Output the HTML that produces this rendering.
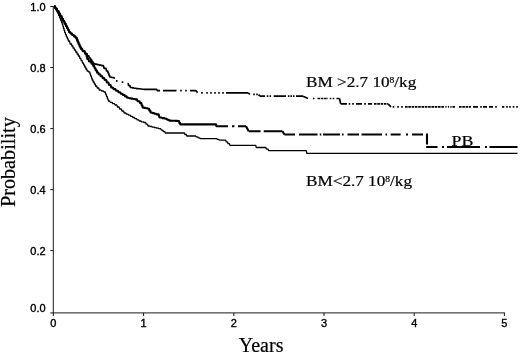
<!DOCTYPE html>
<html><head><meta charset="utf-8"><title>Probability vs Years</title>
<style>html,body{margin:0;padding:0;background:#fff}svg{display:block}</style></head>
<body>
<svg width="520" height="355" viewBox="0 0 520 355">
<rect width="520" height="355" fill="#fff"/>
<g stroke="#1a1a1a" stroke-width="1" fill="none">
<path d="M53.3 6 V313.4"/>
<path d="M50.3 312.9 H504.9"/>
<path d="M53.3 312.9 V316"/>
<path d="M143.6 312.9 V316"/>
<path d="M233.8 312.9 V316"/>
<path d="M324.0 312.9 V316"/>
<path d="M414.2 312.9 V316"/>
<path d="M504.4 312.9 V316"/>
<path d="M50.3 6.5 H53.3"/>
<path d="M50.3 67.5 H53.3"/>
<path d="M50.3 128.6 H53.3"/>
<path d="M50.3 189.6 H53.3"/>
<path d="M50.3 250.6 H53.3"/>
</g>
<g font-family="'Liberation Sans', Arial, sans-serif" font-size="10.3" fill="#000" stroke="#000" stroke-width="0.35">
<text transform="translate(45.6,10.8) scale(1.07,1)" text-anchor="end">1.0</text>
<text transform="translate(45.6,71.8) scale(1.07,1)" text-anchor="end">0.8</text>
<text transform="translate(45.6,132.9) scale(1.07,1)" text-anchor="end">0.6</text>
<text transform="translate(45.6,193.9) scale(1.07,1)" text-anchor="end">0.4</text>
<text transform="translate(45.6,254.9) scale(1.07,1)" text-anchor="end">0.2</text>
<text transform="translate(45.6,311.6) scale(1.07,1)" text-anchor="end">0.0</text>
<text transform="translate(53.3,327) scale(1.07,1)" text-anchor="middle">0</text>
<text transform="translate(143.6,327) scale(1.07,1)" text-anchor="middle">1</text>
<text transform="translate(233.8,327) scale(1.07,1)" text-anchor="middle">2</text>
<text transform="translate(324.0,327) scale(1.07,1)" text-anchor="middle">3</text>
<text transform="translate(414.2,327) scale(1.07,1)" text-anchor="middle">4</text>
<text transform="translate(504.4,327) scale(1.07,1)" text-anchor="middle">5</text>
</g>
<g font-family="'Liberation Serif', 'Times New Roman', serif" fill="#000" stroke="#000" stroke-width="0.2">
<text x="238.8" y="351.6" font-size="20">Years</text>
<text transform="translate(15.1,207.1) rotate(-90) scale(1.012,1)" font-size="20">Probability</text>
<text transform="translate(306,87) scale(1.145,1)" font-size="15">BM &gt;2.7 10<tspan font-size="8.3" dy="-3.9">8</tspan><tspan dy="3.9">/kg</tspan></text>
<text transform="translate(306,185.6) scale(1.145,1)" font-size="15">BM&lt;2.7 10<tspan font-size="8.3" dy="-3.9">8</tspan><tspan dy="3.9">/kg</tspan></text>
<text transform="translate(451.6,145.5) scale(1.17,1)" font-size="15.3">PB</text>
</g>
<g fill="none" stroke="#000" stroke-linejoin="round">
<path stroke-width="1.3" d="M54.4 6.2 L54.8 6.2 L55.2 8.5 L56.0 8.5 L56.4 10.7 L57.2 10.7 L57.6 13.0 L58.0 13.0 L58.4 13.0 L58.6 15.4 L59.4 15.4 L59.6 17.8 L60.4 17.8 L60.6 20.1 L61.4 20.1 L61.6 22.5 L62.0 22.5 L62.2 22.5 L62.4 24.5 L62.8 24.5 L63.0 26.5 L63.4 26.5 L63.6 28.5 L64.0 28.5 L64.2 30.5 L64.6 30.5 L64.8 32.5 L65.0 32.5 L65.3 32.5 L65.6 34.6 L66.2 34.6 L66.5 36.8 L67.2 36.8 L67.5 38.9 L68.1 38.9 L68.4 41.0 L68.7 41.0 L69.5 41.0 L70.2 44.0 L71.0 44.0 L71.5 44.0 L71.9 46.0 L72.8 46.0 L73.2 48.0 L74.1 48.0 L74.5 50.0 L75.0 50.0 L75.5 50.0 L75.9 52.0 L76.8 52.0 L77.2 54.0 L78.1 54.0 L78.5 56.0 L79.0 56.0 L79.5 56.0 L79.9 58.3 L80.8 58.3 L81.2 60.7 L82.1 60.7 L82.5 63.0 L83.0 63.0 L83.4 63.0 L83.7 65.0 L84.5 65.0 L84.9 67.0 L85.6 67.0 L86.0 69.0 L86.8 69.0 L87.1 71.0 L87.5 71.0 L88.2 71.0 L88.8 72.0 L89.5 72.0 L89.8 72.0 L90.0 74.0 L90.5 74.0 L90.7 76.0 L91.3 76.0 L91.5 78.0 L92.0 78.0 L92.2 80.0 L92.5 80.0 L92.9 80.0 L93.3 82.0 L94.1 82.0 L94.4 84.0 L95.2 84.0 L95.6 86.0 L96.0 86.0 L96.7 86.0 L97.3 88.0 L98.7 88.0 L99.3 90.0 L100.0 90.0 L100.9 90.0 L101.6 91.0 L103.4 91.0 L104.1 92.0 L105.0 92.0 L105.3 92.0 L105.6 94.2 L106.2 94.2 L106.5 96.5 L107.2 96.5 L107.5 98.8 L108.1 98.8 L108.4 101.0 L108.7 101.0 L109.6 101.0 L110.3 102.3 L112.0 102.3 L112.7 103.7 L114.4 103.7 L115.1 105.0 L116.0 105.0 L116.8 105.0 L117.5 107.0 L119.0 107.0 L119.7 109.0 L121.3 109.0 L122.0 111.0 L123.5 111.0 L124.2 113.0 L125.0 113.0 L125.8 113.0 L126.4 114.1 L127.9 114.1 L128.6 115.2 L130.1 115.2 L130.8 116.4 L132.3 116.4 L132.9 117.5 L133.7 117.5 L134.4 117.5 L135.1 118.7 L136.5 118.7 L137.2 119.8 L138.6 119.8 L139.3 121.0 L140.0 121.0 L140.9 121.0 L141.6 121.8 L143.4 121.8 L144.1 122.5 L145.0 122.5 L145.6 122.5 L146.2 124.2 L147.5 124.2 L148.1 126.0 L148.7 126.0 L149.5 126.0 L150.2 126.5 L151.8 126.5 L152.4 127.1 L154.0 127.1 L154.7 127.6 L156.3 127.6 L156.9 128.2 L158.5 128.2 L159.2 128.7 L160.0 128.7 L160.7 128.7 L161.3 130.1 L162.7 130.1 L163.3 131.6 L164.7 131.6 L165.3 133.0 L166.0 133.0 L183.7 133.0 L184.4 133.0 L184.9 134.5 L186.3 134.5 L186.8 136.0 L187.5 136.0 L195.0 136.0 L195.7 136.0 L196.3 136.9 L197.7 136.9 L198.3 137.8 L199.7 137.8 L200.3 138.7 L201.0 138.7 L216.0 138.7 L216.7 138.7 L217.3 139.4 L218.7 139.4 L219.3 140.2 L220.0 140.2 L225.0 140.2 L225.7 140.2 L226.2 141.9 L227.5 141.9 L228.1 143.7 L229.4 143.7 L229.9 145.4 L230.6 145.4 L255.0 145.4 L255.7 145.4 L256.3 147.5 L257.0 147.5 L265.0 147.5 L265.8 147.5 L266.4 149.1 L268.0 149.1 L268.6 150.6 L269.4 150.6 L305.6 150.6 L306.3 150.6 L306.8 153.4 L307.5 153.4 L517.5 153.4"/>
<path stroke-width="1.7" d="M54.4 6.2 L55.0 6.2 L55.6 8.6 L56.8 8.6 L57.4 11.0 L58.0 11.0 L58.5 11.0 L59.0 13.6 L60.0 13.6 L60.5 16.1 L61.5 16.1 L62.0 18.7 L62.5 18.7 L63.0 18.7 L63.4 21.1 L64.3 21.1 L64.7 23.6 L65.6 23.6 L66.0 26.0 L66.5 26.0 L66.8 26.0 L67.2 28.0 L67.8 28.0 L68.2 30.0 L68.8 30.0 L69.2 32.0 L69.5 32.0 L70.1 32.0 L70.6 33.5 L71.9 33.5 L72.4 35.0 L73.0 35.0 L73.6 35.0 L74.1 36.4 L75.3 36.4 L75.8 37.8 L76.4 37.8 L76.7 37.8 L76.9 39.9 L77.5 39.9 L77.7 42.0 L78.0 42.0 L78.4 42.0 L78.7 44.2 L79.4 44.2 L79.8 46.5 L80.5 46.5 L80.8 48.7 L81.2 48.7 L82.1 48.7 L82.8 51.2 L84.6 51.2 L85.3 53.7 L86.2 53.7 L86.9 53.7 L87.4 55.9 L88.8 55.9 L89.3 58.0 L90.0 58.0 L90.4 58.0 L90.8 59.9 L91.7 59.9 L92.0 61.8 L92.9 61.8 L93.3 63.7 L93.7 63.7 L94.5 63.7 L95.1 64.2 L96.7 64.2 L97.3 64.7 L98.9 64.7 L99.5 65.1 L101.1 65.1 L101.7 65.6 L102.5 65.6 L103.4 65.6 L104.1 68.3 L105.9 68.3 L106.6 71.0 L107.5 71.0 L107.8 71.0 L108.0 73.0 L108.6 73.0 L108.9 75.0 L109.5 75.0 L109.7 77.0 L110.0 77.0 L110.9 77.0 L111.6 77.5 L113.4 77.5 L114.1 78.0 L115.0 78.0"/>
<path stroke-width="1.6" d="M127.5 83.5 L128.1 83.5 L128.6 85.5 L129.9 85.5 L130.4 87.5 L131.0 87.5 L131.7 87.5 L132.3 87.9 L133.7 87.9 L134.3 88.2 L135.7 88.2 L136.3 88.6 L137.0 88.6 L137.7 88.6 L138.3 88.8 L139.7 88.8 L140.3 89.0 L141.7 89.0 L142.3 89.2 L143.7 89.2 L144.3 89.4 L145.0 89.4 L156.0 89.4 L156.7 89.4 L157.3 90.6 L158.0 90.6 L160.0 90.6"/>
<path stroke-width="1.7" d="M116.0 80.8 H117.6 M121.7 82.2 H123.3 M163.0 90.6 H176.5 M180.2 90.6 H181.8 M185.2 90.6 H186.8 M190.0 90.6 H196.0 M196 90.6 L197.5 92.7 M201.2 92.9 H202.8 M206.2 92.9 H207.8 M210.2 92.9 H211.8 M214.2 92.9 H215.8 M218.2 92.9 H219.8 M222.2 92.9 H223.8 M226.0 92.9 H248.0 M248 92.9 L250 94.4 M253.2 94.4 H254.8 M256.2 94.4 H257.8 M258.5 94.6 L260 96.2 M260.0 96.2 H265.0 M266.7 96.2 H268.3 M269.5 96.2 H271.1 M273.7 96.2 H286.0 M287.9 96.2 H289.5 M290.4 96.2 H292.0 M292.9 96.2 H294.5 M296.0 96.2 H303.0 M303 96.2 L308 98.5 M312.9 98.5 H314.5 M317.5 98.5 H320.1 M320.8 98.5 H323.4 M324.1 98.5 H326.7 M327.4 98.5 H328.0 M329.7 98.5 H331.3 M332.7 98.5 H334.3 M336.5 98.5 H339.3 M339.5 98.5 L340.7 103.8 M340.7 103.8 H347.0 M348.7 103.8 H350.3 M352.2 103.8 H353.8 M356.0 103.8 H362.0 M364.2 103.8 H365.8 M368.0 103.8 H372.0 M374.0 103.8 H376.6 M377.3 103.8 H379.9 M380.6 103.8 H383.2 M383.9 103.8 H386.5 M387.2 103.8 H388.0 M388 103.8 L391 106.8 M392.7 106.8 H394.3 M397.2 106.8 H398.8 M401.2 106.8 H402.8 M405.0 106.8 H407.6 M408.3 106.8 H410.9 M411.6 106.8 H414.2 M414.9 106.8 H417.5 M418.2 106.8 H420.8 M421.5 106.8 H424.1 M424.8 106.8 H427.4 M428.1 106.8 H430.7 M431.4 106.8 H434.0 M434.7 106.8 H437.3 M438.0 106.8 H440.6 M441.3 106.8 H443.9 M445.4 106.8 H446.6 M447.9 106.8 H449.1 M450.4 106.8 H451.6 M452.5 106.8 H455.0 M459.0 106.8 H461.6 M462.3 106.8 H464.9 M465.6 106.8 H468.2 M468.9 106.8 H471.0 M473.0 106.8 H478.0 M480.2 106.8 H481.8 M483.0 106.8 H487.0 M489.0 106.8 H493.0 M495.2 106.8 H496.8 M502.0 106.8 H504.3 M506.2 106.8 H507.8 M509.2 106.8 H510.8 M512.7 106.8 H514.3 M516.2 106.8 H517.8"/>
<path stroke-width="2.1" d="M54.4 6.2 L55.0 6.2 L55.6 8.6 L56.8 8.6 L57.4 11.0 L58.0 11.0 L58.5 11.0 L59.0 13.6 L60.0 13.6 L60.5 16.1 L61.5 16.1 L62.0 18.7 L62.5 18.7 L63.0 18.7 L63.4 21.1 L64.3 21.1 L64.7 23.6 L65.6 23.6 L66.0 26.0 L66.5 26.0 L66.8 26.0 L67.2 28.0 L67.8 28.0 L68.2 30.0 L68.8 30.0 L69.2 32.0 L69.5 32.0 L70.1 32.0 L70.6 33.5 L71.9 33.5 L72.4 35.0 L73.0 35.0 L73.6 35.0 L74.1 36.4 L75.3 36.4 L75.8 37.8 L76.4 37.8 L76.7 37.8 L76.9 39.9 L77.5 39.9 L77.7 42.0 L78.0 42.0 L78.4 42.0 L78.7 44.2 L79.4 44.2 L79.8 46.5 L80.5 46.5 L80.8 48.7 L81.2 48.7 L82.1 48.7 L82.8 51.2 L84.6 51.2 L85.3 53.7 L86.2 53.7 L86.4 53.7 L86.6 56.4 L87.1 56.4 L87.3 59.0 L87.5 59.0 L88.4 59.0 L89.1 61.4 L90.9 61.4 L91.6 63.7 L92.5 63.7 L92.9 63.7 L93.3 65.9 L94.2 65.9 L94.6 68.1 L95.4 68.1 L95.8 70.3 L96.7 70.3 L97.1 72.5 L97.5 72.5 L98.2 72.5 L98.8 74.4 L100.2 74.4 L100.8 76.2 L102.2 76.2 L102.8 78.1 L104.2 78.1 L104.8 80.0 L105.5 80.0 L106.3 80.0 L106.9 82.5 L108.4 82.5 L109.1 85.0 L110.6 85.0 L111.2 87.5 L112.0 87.5 L112.9 87.5 L113.6 89.1 L115.4 89.1 L116.1 90.7 L117.9 90.7 L118.6 92.3 L119.5 92.3 L120.2 92.3 L120.9 93.7 L122.4 93.7 L123.0 95.0 L124.5 95.0 L125.1 96.4 L126.6 96.4 L127.3 97.8 L128.0 97.8 L128.7 97.8 L129.3 98.2 L130.7 98.2 L131.3 98.6 L132.7 98.6 L133.3 99.0 L134.7 99.0 L135.3 99.4 L136.0 99.4 L136.9 99.4 L137.6 101.2 L139.4 101.2 L140.1 103.0 L141.0 103.0 L141.3 103.0 L141.7 105.2 L142.3 105.2 L142.7 107.5 L143.0 107.5 L143.7 107.5 L144.2 107.9 L145.6 107.9 L146.1 108.3 L147.5 108.3 L148.0 108.7 L148.7 108.7 L149.1 108.7 L149.4 110.6 L150.3 110.6 L150.6 112.5 L151.0 112.5 L151.8 112.5 L152.4 113.1 L153.9 113.1 L154.6 113.8 L156.1 113.8 L156.7 114.4 L157.5 114.4 L158.6 114.4 L159.5 117.5 L160.6 117.5 L161.5 117.5 L162.4 118.1 L164.2 118.1 L165.1 118.7 L166.0 118.7 L166.7 118.7 L167.3 119.7 L168.7 119.7 L169.3 120.6 L170.0 120.6 L170.8 120.6 L171.4 120.7 L172.9 120.7 L173.6 120.8 L175.1 120.8 L175.8 120.9 L177.3 120.9 L177.9 121.0 L178.7 121.0 L179.0 121.0 L179.3 122.7 L180.0 122.7 L180.3 124.4 L180.6 124.4 L215.6 124.4 L216.1 124.4 L216.5 126.2 L217.0 126.2"/>
<path stroke-width="2.1" d="M217.0 126.2 H228.0 M232.0 126.2 H234.4 M238.0 126.2 H246.0 M246 126.2 L248.7 131.2 M248.7 131.2 H260.6 M263.7 131.2 H282.5 M282.5 131.2 L284.4 134.5 M284.4 134.5 H295.0 M299.0 134.5 H317.5 M319.8 134.5 H321.3 M323.0 134.5 H340.0 M342.0 134.5 H343.6 M347.5 134.5 H359.0 M361.5 134.5 H382.0 M385.5 134.5 H387.0 M390.6 134.5 H400.6 M406.0 134.5 H408.0 M412.0 134.5 H423.0 M427 133.6 V144.6 M426.2 147.0 H437.5 M442.0 147.0 H444.0 M447.0 147.0 H480.0 M485.0 147.0 H487.0 M489.5 147.0 H517.5"/>
</g>
</svg>
</body></html>
